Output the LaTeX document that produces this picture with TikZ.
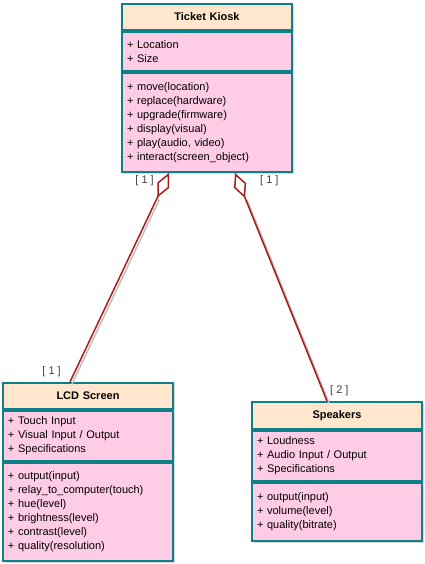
\documentclass[tikz,border=0pt]{standalone}
\usepackage{fontspec}
\setmainfont{Liberation Sans}
\usetikzlibrary{positioning, arrows.meta, shadows}
\definecolor{classteal}{HTML}{0E8088}
\definecolor{headfill}{HTML}{FFE6CC}
\definecolor{partfill}{HTML}{FFCCE6}
\definecolor{linkred}{HTML}{A81C1C}
\tikzset{
    umlhead/.style={
        draw=classteal, line width=2pt,
        fill=headfill,
        minimum width=170pt, text width=160pt,
        align=center,
        font=\bfseries\fontsize{11}{14}\selectfont,
        drop shadow={shadow xshift=2pt, shadow yshift=-2pt, fill=black!30}
    },
    umlpart/.style={
        draw=classteal, line width=2pt,
        fill=partfill,
        minimum width=170pt, text width=160pt,
        align=left,
        font=\fontsize{11}{14}\selectfont,
        drop shadow={shadow xshift=2pt, shadow yshift=-2pt, fill=black!30}
    },
    link/.style = {draw=linkred, line width=1.5pt, -{Diamond[open, length=27pt, width=13pt]}},
    linkshadow/.style = {draw=black!25, line width=1.5pt, shorten >=27pt},
    mult/.style = {font=\fontsize{11}{14}\selectfont, text=black!75, inner sep=1pt}
}

\begin{document}
\begin{tikzpicture}[x=1pt, y=-1pt]

    \useasboundingbox (0,0) rectangle (424,564);

    % Ticket Kiosk class
    \node[umlhead, minimum height=26pt, anchor=north west] (kioskhead) at (121,3) {Ticket Kiosk};
    \node[umlpart, minimum height=39pt, below=0pt of kioskhead] (kioskattr) {+ Location\\+ Size};
    \node[umlpart, minimum height=99pt, below=0pt of kioskattr] (kioskops) {+ move(location)\\+ replace(hardware)\\+ upgrade(firmware)\\+ display(visual)\\+ play(audio, video)\\+ interact(screen\_object)};

    % LCD Screen class
    \node[umlhead, minimum height=26pt, anchor=north west] (lcdhead) at (2,382) {LCD Screen};
    \node[umlpart, minimum height=50pt, below=0pt of lcdhead] (lcdattr) {+ Touch Input\\+ Visual Input / Output\\+ Specifications};
    \node[umlpart, minimum height=98pt, below=0pt of lcdattr] (lcdops) {+ output(input)\\+ relay\_to\_computer(touch)\\+ hue(level)\\+ brightness(level)\\+ contrast(level)\\+ quality(resolution)};

    % Speakers class
    \node[umlhead, minimum height=27pt, anchor=north west] (spkhead) at (251,401) {Speakers};
    \node[umlpart, minimum height=50pt, below=0pt of spkhead] (spkattr) {+ Loudness\\+ Audio Input / Output\\+ Specifications};
    \node[umlpart, minimum height=58pt, below=0pt of spkattr] (spkops) {+ output(input)\\+ volume(level)\\+ quality(bitrate)};

    % Link ends
    \coordinate (kioskleft) at ([xshift=48pt]kioskops.south west);
    \coordinate (kioskright) at ([xshift=114pt]kioskops.south west);
    \coordinate (lcdtop) at ([xshift=68pt]lcdhead.north west);
    \coordinate (spktop) at ([xshift=76pt]spkhead.north west);

    % Aggregations
    \draw[linkshadow] ([xshift=2pt, yshift=-2pt]lcdtop) -- ([xshift=2pt, yshift=-2pt]kioskleft);
    \draw[linkshadow] ([xshift=2pt, yshift=-2pt]spktop) -- ([xshift=2pt, yshift=-2pt]kioskright);
    \draw[link] (lcdtop) -- (kioskleft);
    \draw[link] (spktop) -- (kioskright);

    % Multiplicities
    \node[mult, below left=1pt and 14pt of kioskleft] (multkl) {[ 1 ]};
    \node[mult, below right=1pt and 24pt of kioskright] (multkr) {[ 1 ]};
    \node[mult, above left=4pt and 8pt of lcdtop] (multlcd) {[ 1 ]};
    \node[mult, above right=4pt and 2pt of spktop] (multspk) {[ 2 ]};

\end{tikzpicture}
\end{document}
